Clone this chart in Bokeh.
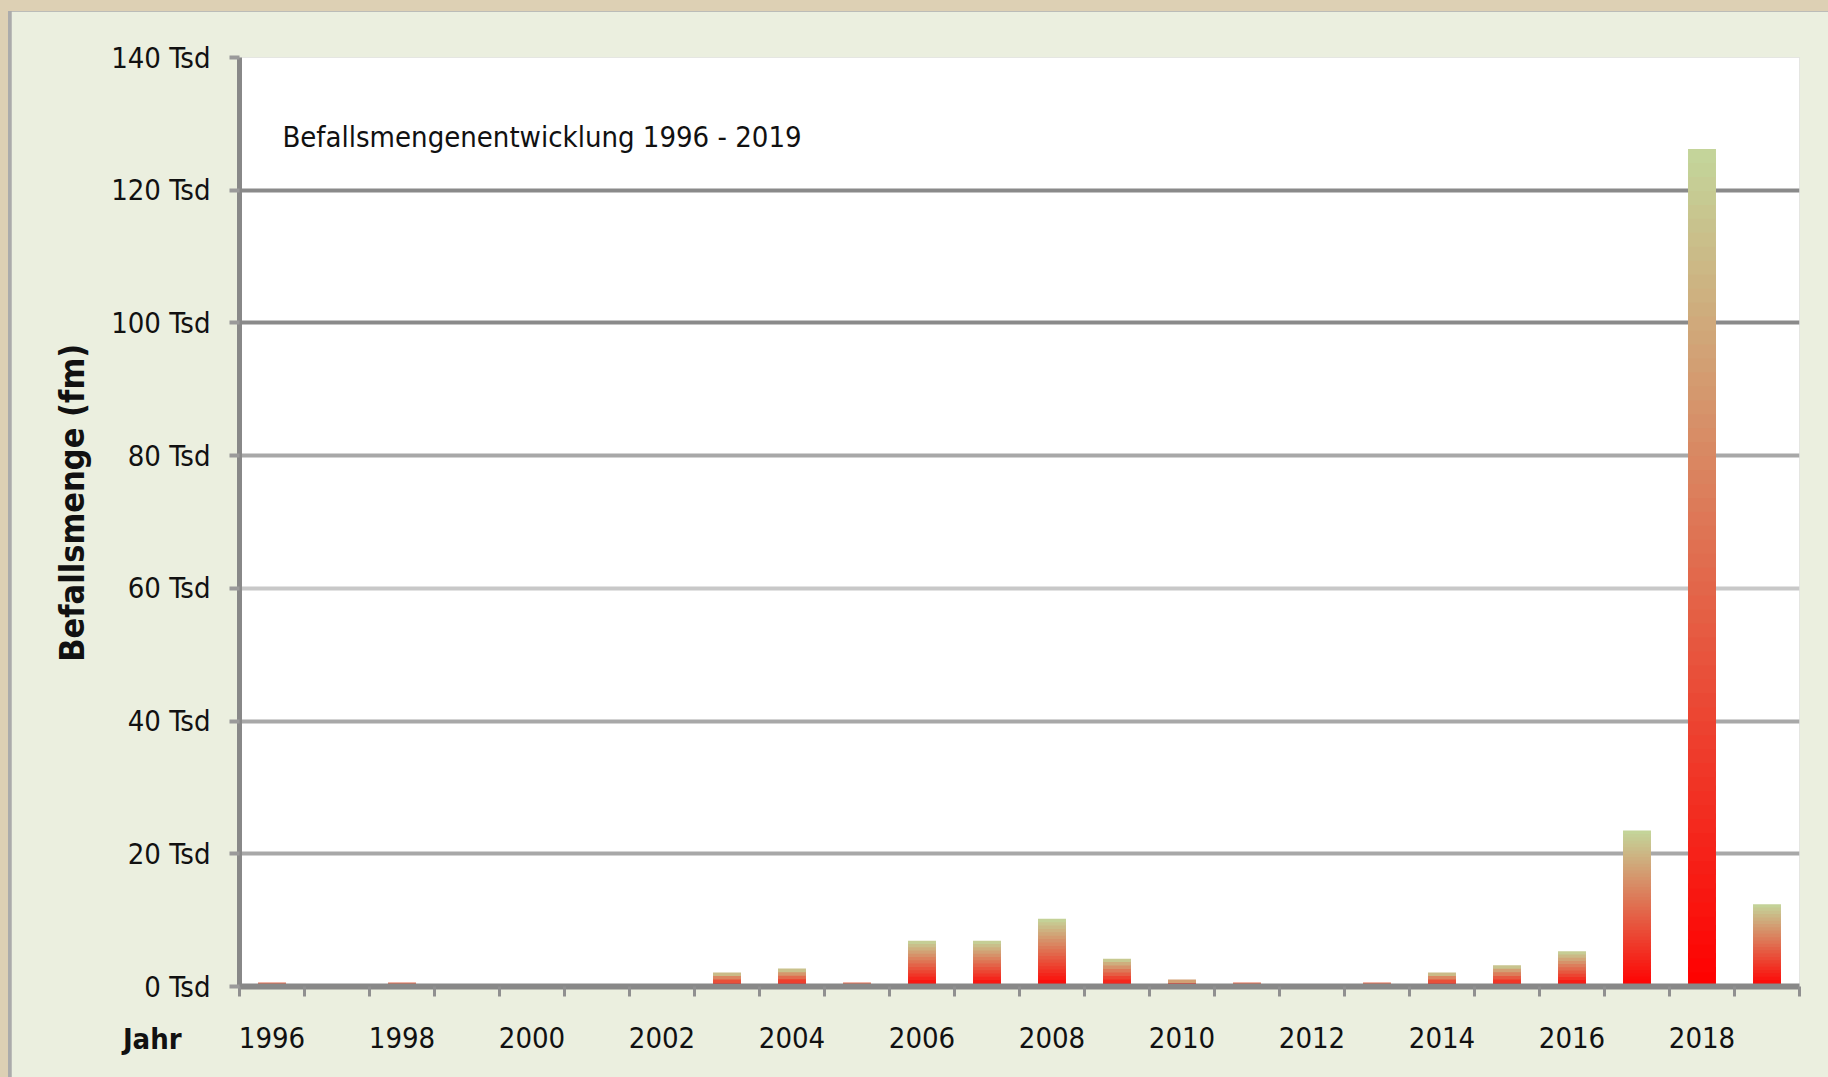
import math
from bokeh.plotting import figure
from bokeh.models import Range1d, FixedTicker, Grid, Label, ColumnDataSource
from bokeh.layouts import column
from bokeh.embed import file_html
from bokeh.resources import INLINE

# ---- data ----
years = list(range(1996, 2020))
befall_tsd = [0.6, 0, 0.6, 0, 0, 0, 0, 2.1, 2.7, 0.6, 6.9, 6.9, 10.2, 4.2,
              1.05, 0.6, 0, 0.6, 2.1, 3.2, 5.3, 23.5, 126.2, 12.4]
label_years = [1996, 1998, 2000, 2002, 2004, 2006, 2008, 2010, 2012, 2014, 2016, 2018]
y_ticks = [0, 20, 40, 60, 80, 100, 120, 140]
y_tick_labels = [f"{v} Tsd" for v in y_ticks]
title_text = "Befallsmengenentwicklung 1996 - 2019"
y_label = "Befallsmenge (fm)"
x_label = "Jahr"

FONT = "DejaVu Sans Condensed"
PANEL = "#EBEFDF"

# gradient colours: bottom red -> top light green
c_bot = (255, 0, 0)
c_top = (195, 214, 155)

xs, bots, tops, cols = [], [], [], []
for yr, v in zip(years, befall_tsd):
    if v <= 0:
        continue
    n = min(60, max(1, round(v * 2)))
    for i in range(n):
        t = (i + 0.5) / n
        r = round(c_bot[0] + (c_top[0] - c_bot[0]) * t)
        g = round(c_bot[1] + (c_top[1] - c_bot[1]) * t)
        b = round(c_bot[2] + (c_top[2] - c_bot[2]) * t)
        xs.append(yr)
        bots.append(v * i / n)
        tops.append(min(v, v * (i + 1.4) / n))
        cols.append(f"#{r:02x}{g:02x}{b:02x}")

src = ColumnDataSource(dict(x=xs, bottom=bots, top=tops, color=cols))

p = figure(width=1817, height=1066,
           x_range=Range1d(years[0] - 0.5, years[-1] + 0.5),
           y_range=Range1d(0, 140),
           output_backend="svg", toolbar_location=None,
           min_border_left=228, min_border_right=29,
           min_border_top=46, min_border_bottom=91,
           background_fill_color="white", border_fill_color=PANEL,
           outline_line_color=None)

p.xgrid.visible = False
p.ygrid.visible = False

for ticks, colr in (([100, 120, 140], "#8a8a8a"),
                    ([20, 40, 80], "#a8a8a8"),
                    ([60], "#c8c8c8")):
    g = Grid(dimension=1, ticker=FixedTicker(ticks=ticks),
             grid_line_color=colr, grid_line_width=4)
    p.add_layout(g)

p.vbar(x="x", bottom="bottom", top="top", width=0.43, source=src,
       fill_color="color", line_color=None)

# y axis
ya = p.yaxis[0]
ya.ticker = FixedTicker(ticks=y_ticks)
ya.major_label_overrides = {v: s for v, s in zip(y_ticks, y_tick_labels)}
ya.axis_line_color = "#888888"
ya.axis_line_width = 5
ya.major_tick_out = 10
ya.major_tick_in = 0
ya.major_tick_line_color = "#9a9a9a"
ya.major_tick_line_width = 4
ya.minor_tick_line_color = None
ya.major_label_standoff = 19
ya.major_label_text_font = FONT
ya.major_label_text_font_size = "29px"
ya.major_label_text_color = "#111111"

# x axis
xa = p.xaxis[0]
xa.ticker = FixedTicker(ticks=label_years,
                        minor_ticks=[y - 0.5 for y in years] + [years[-1] + 0.5])
xa.axis_line_color = "#888888"
xa.axis_line_width = 6
xa.major_tick_out = 0
xa.major_tick_in = 0
xa.minor_tick_out = 10
xa.minor_tick_in = 0
xa.minor_tick_line_color = "#909090"
xa.minor_tick_line_width = 3
xa.major_label_standoff = 30
xa.major_label_text_font = FONT
xa.major_label_text_font_size = "29px"
xa.major_label_text_color = "#111111"

p.add_layout(Label(x=1996.16, y=128, text=title_text, text_font=FONT,
                   text_font_size="29px", text_color="#111111",
                   text_baseline="middle", text_align="left"))

# labels outside the frame live in side panels so they are not clipped
# (positions are still given in data units)
p.add_layout(Label(x=1994.61, y=-7.9, text=x_label, text_font=FONT,
                   text_font_size="29px", text_font_style="bold",
                   text_color="#111111",
                   text_baseline="middle", text_align="right"), "above")
p.add_layout(Label(x=1992.93, y=72.9, text=y_label, angle=math.pi / 2,
                   text_font=FONT, text_font_size="34px",
                   text_font_style="bold", text_color="#111111",
                   text_baseline="middle", text_align="center"), "left")

inner = column(p, styles={"background-color": "#ABABAB", "padding-left": "3px"})
outer = column(inner, styles={"background-color": "#DDD0B4",
                              "padding-top": "11px", "padding-left": "8px"})

open("out.html", "w").write(file_html(outer, INLINE))
